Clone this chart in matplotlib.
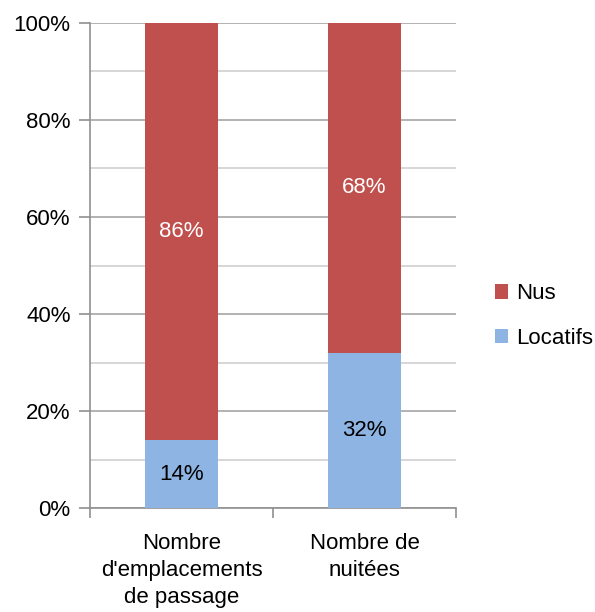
import matplotlib
matplotlib.use("Agg")
import matplotlib.pyplot as plt
import numpy as np

categories = ["Nombre\nd'emplacements\nde passage", "Nombre de\nnuitées"]
locatifs = [14, 32]
nus = [86, 68]
series_names = ["Nus", "Locatifs"]
yticks = [0, 20, 40, 60, 80, 100]
ytick_labels = ["0%", "20%", "40%", "60%", "80%", "100%"]

plt.rcParams['font.family'] = ['Liberation Sans', 'DejaVu Sans']

red = "#C0504D"
blue = "#8EB4E3"
FS = 16

fig = plt.figure(figsize=(5.95, 6.12), dpi=100)
ax = fig.add_axes([90/595, 1-508/612, (456-90)/595, (508-23)/612])

x = np.arange(len(categories))
b1 = ax.bar(x, locatifs, width=0.4, color=blue, label="Locatifs", zorder=3)
b2 = ax.bar(x, nus, width=0.4, bottom=locatifs, color=red, label="Nus", zorder=3)

for i in range(len(categories)):
    ax.text(x[i], locatifs[i]/2, f"{locatifs[i]}%", ha='center', va='center',
            fontsize=FS, color='black', zorder=4)
    ax.text(x[i], locatifs[i] + nus[i]/2, f"{nus[i]}%", ha='center', va='center',
            fontsize=FS, color='white', zorder=4)

ax.set_xlim(-0.5, 1.5)
ax.set_ylim(0, 100)
ax.set_yticks(yticks)
ax.set_yticklabels(ytick_labels, fontsize=FS)
ax.set_yticks(np.arange(10, 100, 20), minor=True)
ax.grid(axis='y', which='major', color='#A6A6A6', linewidth=1.2, zorder=0)
ax.grid(axis='y', which='minor', color='#D0D0D0', linewidth=1.2, zorder=0)
ax.tick_params(axis='y', which='major', length=8, width=1.2, color='#909090', pad=6)
ax.tick_params(axis='y', which='minor', length=0)

ax.set_xticks([-0.5, 0.5, 1.5])
ax.set_xticklabels([])
ax.set_xticks(x, minor=True)
ax.set_xticklabels(categories, minor=True, fontsize=FS, linespacing=1.38)
ax.tick_params(axis='x', which='major', length=7, width=1.2, color='#909090', direction='out')
ax.tick_params(axis='x', which='minor', length=0, pad=18)

for s in ['top', 'right']:
    ax.spines[s].set_visible(False)
ax.spines['left'].set_color('#909090')
ax.spines['left'].set_linewidth(1.2)
ax.spines['bottom'].set_color('#909090')
ax.spines['bottom'].set_linewidth(1.2)

leg = fig.legend(handles=[b2, b1], labels=series_names, loc='center left',
                 bbox_to_anchor=(495/595, 1-316/612), frameon=False, fontsize=FS,
                 handlelength=0.6, handleheight=0.6, handletextpad=0.35, labelspacing=1.05,
                 borderpad=0, borderaxespad=0)

fig.savefig("out.png", dpi=100)
